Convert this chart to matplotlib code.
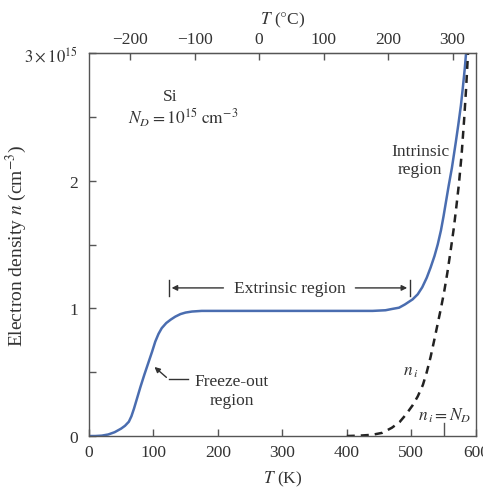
import numpy as np
import matplotlib
matplotlib.use("Agg")
import matplotlib.pyplot as plt
from matplotlib.ticker import FixedLocator, FixedFormatter

plt.rcParams['font.family'] = ['Liberation Serif', 'DejaVu Serif']
plt.rcParams['mathtext.fontset'] = 'stix'

# Electron density n (units of 1e15 cm^-3) vs T (K)
T_n = [0, 10, 20, 30, 40, 50, 56, 62, 66, 70, 75, 80, 86, 92, 98, 103, 108, 113, 120,
       127, 134, 142, 150, 160, 175, 250, 350, 440, 460, 470, 481, 490, 502, 510,
       517, 524, 530, 536, 541, 546, 550, 554, 558, 563, 569, 573, 577, 580, 583, 585]
n_vals = [0.0, 0.0, 0.003, 0.012, 0.03, 0.058, 0.08, 0.112, 0.155, 0.215, 0.3, 0.385,
          0.48, 0.57, 0.66, 0.74, 0.8, 0.845, 0.885, 0.912, 0.935, 0.955, 0.967, 0.975,
          0.98, 0.98, 0.98, 0.98, 0.985, 0.995, 1.005, 1.03, 1.07, 1.11, 1.165, 1.24,
          1.32, 1.41, 1.5, 1.61, 1.72, 1.84, 1.96, 2.1, 2.3, 2.44, 2.59, 2.73, 2.88, 3.0]

# Intrinsic carrier density n_i
T_ni = [400, 420, 440, 455, 470, 482, 492, 502, 510, 518, 524, 530, 536, 541, 546,
        551, 556, 561, 566, 570, 574, 578, 582, 585, 588]
ni_vals = [0.0, 0.003, 0.01, 0.025, 0.065, 0.11, 0.17, 0.24, 0.31, 0.4, 0.5, 0.62,
           0.76, 0.88, 1.0, 1.13, 1.28, 1.45, 1.63, 1.8, 1.98, 2.2, 2.48, 2.72, 3.0]

x_ticks = [0, 100, 200, 300, 400, 500, 600]
y_major = [0, 1, 2, 3]
y_labels = ['0', '1', '2', r'$3\times10^{15}$']
y_minor = [0.5, 1.5, 2.5]
c_ticks = [-200, -100, 0, 100, 200, 300]
c_offset = 264
ni_eq_nd_T = 550
extrinsic_span = (124, 498)

txt = '#333333'
fs = 12.5
fig = plt.figure(figsize=(4.83, 4.89), dpi=100)
ax = fig.add_axes([0.184, 0.1063, 0.801, 0.7833])

ax.plot(T_n, n_vals, color='#4a6db0', lw=1.8, solid_capstyle='round',
        solid_joinstyle='round')
ax.plot(T_ni, ni_vals, color='#222222', lw=1.8, ls=(0, (3.2, 2.4)))

ax.set_xlim(0, 600)
ax.set_ylim(0, 3)
ax.xaxis.set_major_locator(FixedLocator(x_ticks))
ax.yaxis.set_major_locator(FixedLocator(y_major))
ax.yaxis.set_major_formatter(FixedFormatter(y_labels))
ax.yaxis.set_minor_locator(FixedLocator(y_minor))
ax.tick_params(axis='both', which='both', direction='in', length=5, width=1,
               colors='#555555', labelcolor=txt, labelsize=fs)
ax.tick_params(axis='x', pad=6)
ax.tick_params(axis='y', pad=8)
ax.yaxis.get_major_ticks()[3].label1.set_fontsize(12)
for s in ax.spines.values():
    s.set_color('#555555')
    s.set_linewidth(1.0)

ax.set_xlabel(r'$T$ (K)', fontsize=fs, color=txt, labelpad=6)
ax.set_ylabel(r'Electron density $n$ (cm$^{-3}$)', fontsize=14, color=txt)
ax.yaxis.set_label_coords(-0.155, 0.5)

sec = ax.secondary_xaxis('top', functions=(lambda t: t - c_offset, lambda c: c + c_offset))
sec.set_xticks(c_ticks)
sec.tick_params(direction='in', length=5, width=1, colors='#555555', labelcolor=txt,
                labelsize=fs, pad=4)
sec.set_xlabel(r'$T$ ($\degree$C)', fontsize=fs, color=txt, labelpad=6)

# marker where n_i = N_D
ax.plot([ni_eq_nd_T, ni_eq_nd_T], [0, 0.1], color='#555555', lw=1)

ax.text(126, 2.66, 'Si', ha='center', va='center', fontsize=fs, color=txt)
ax.text(146, 2.5, r'$N_D = 10^{15}\ \mathrm{cm}^{-3}$', ha='center', va='center',
        fontsize=fs, color=txt)
ax.text(514, 2.16, 'Intrinsic\nregion', ha='center', va='center', fontsize=fs,
        color=txt, linespacing=1.2)
ax.text(311, 1.16, 'Extrinsic region', ha='center', va='center', fontsize=fs, color=txt)
ax.annotate('', xy=(extrinsic_span[0], 1.16), xytext=(213, 1.16),
            arrowprops=dict(arrowstyle='-|>', color='#333333', lw=1, mutation_scale=8))
ax.annotate('', xy=(extrinsic_span[1], 1.16), xytext=(409, 1.16),
            arrowprops=dict(arrowstyle='-|>', color='#333333', lw=1, mutation_scale=8))
for xb in extrinsic_span:
    ax.plot([xb, xb], [1.095, 1.225], color='#333333', lw=1)

ax.text(222, 0.36, 'Freeze-out\nregion', ha='center', va='center', fontsize=fs,
        color=txt, linespacing=1.25)
ax.plot([123.5, 154], [0.445, 0.445], color='#333333', lw=1)
ax.annotate('', xy=(98.5, 0.555), xytext=(123.5, 0.445),
            arrowprops=dict(arrowstyle='-|>', color='#333333', lw=1, mutation_scale=8))

ax.text(499, 0.51, r'$n_{\,i}$', ha='center', va='center', fontsize=fs, color=txt)
ax.text(552, 0.17, r'$n_{\,i} = N_D$', ha='center', va='center', fontsize=fs, color=txt)

fig.savefig('out.png', dpi=100)
